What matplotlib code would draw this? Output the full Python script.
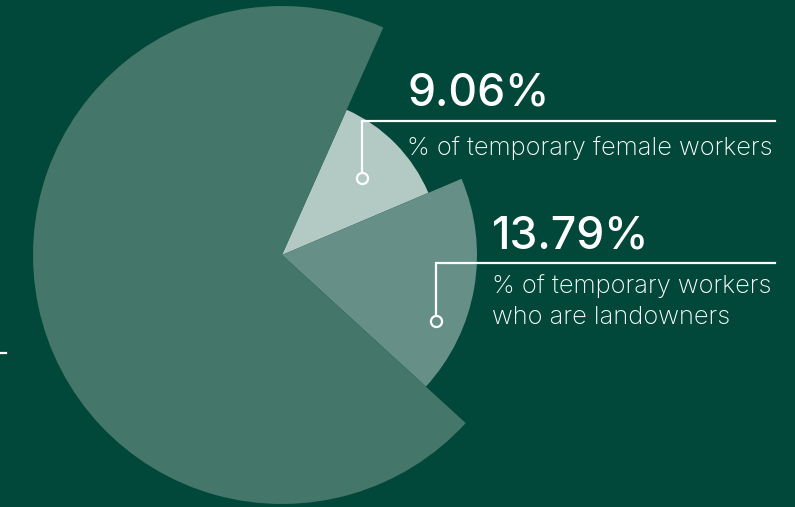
import matplotlib
matplotlib.use("Agg")
import matplotlib.pyplot as plt

# data
categories = [["% of temporary female workers"],
              ["% of temporary workers", "who are landowners"],
              ["other"]]
values = [9.06, 13.79, 53.0]
value_labels = ["9.06%", "13.79%"]

BG = "#01483A"
slice_colors = ["#B3C9C4", "#668F87", "#447669"]
radii = [159, 195, 249]

W, H = 795, 507
fig = plt.figure(figsize=(W / 100, H / 100), dpi=100, facecolor=BG)
ax = fig.add_axes([0, 0, 1, 1])
ax.set_facecolor(BG)

cx, cy = 282, H - 255
wedges, _ = ax.pie(values, colors=slice_colors, startangle=66, counterclock=False,
                   center=(cx, cy), radius=radii[-1], frame=True,
                   wedgeprops=dict(linewidth=0))
for w, r in zip(wedges, radii):
    w.set_radius(r)
ax.set_xlim(0, W)
ax.set_ylim(0, H)
ax.set_aspect("equal")
ax.axis("off")

FONT = "Inter"

def callout(dot, corner_y, line_end, text_x, num_base, sub_base, num, sub_lines, dotcolor):
    dx, dy = dot
    ax.plot([dx, dx, line_end], [dy, corner_y, corner_y], color="white", lw=1.6,
            solid_joinstyle="miter", zorder=5)
    ax.plot([dx], [dy], marker="o", ms=8, mfc=dotcolor, mec="white", mew=1.6, zorder=6)
    ax.text(text_x, num_base, num, color="white", fontsize=32, family=FONT,
            fontweight="medium", va="baseline", ha="left")
    for i, line in enumerate(sub_lines):
        ax.text(text_x, sub_base - i * 31, line, color="white", fontsize=18.4, family=FONT,
                fontweight="light", va="baseline", ha="left")

callout((361.7, H - 178.3), H - 121.3, 774.5, 407, H - 106, H - 155,
        value_labels[0], categories[0], slice_colors[0])
callout((436, H - 320.7), H - 263.3, 775, 492, H - 248.3, H - 293,
        value_labels[1], categories[1], slice_colors[1])

# small leftover tick at left edge
ax.plot([0, 6], [H - 352.5, H - 352.5], color="white", lw=1.6)

fig.savefig("out.png", dpi=100, facecolor=BG)
